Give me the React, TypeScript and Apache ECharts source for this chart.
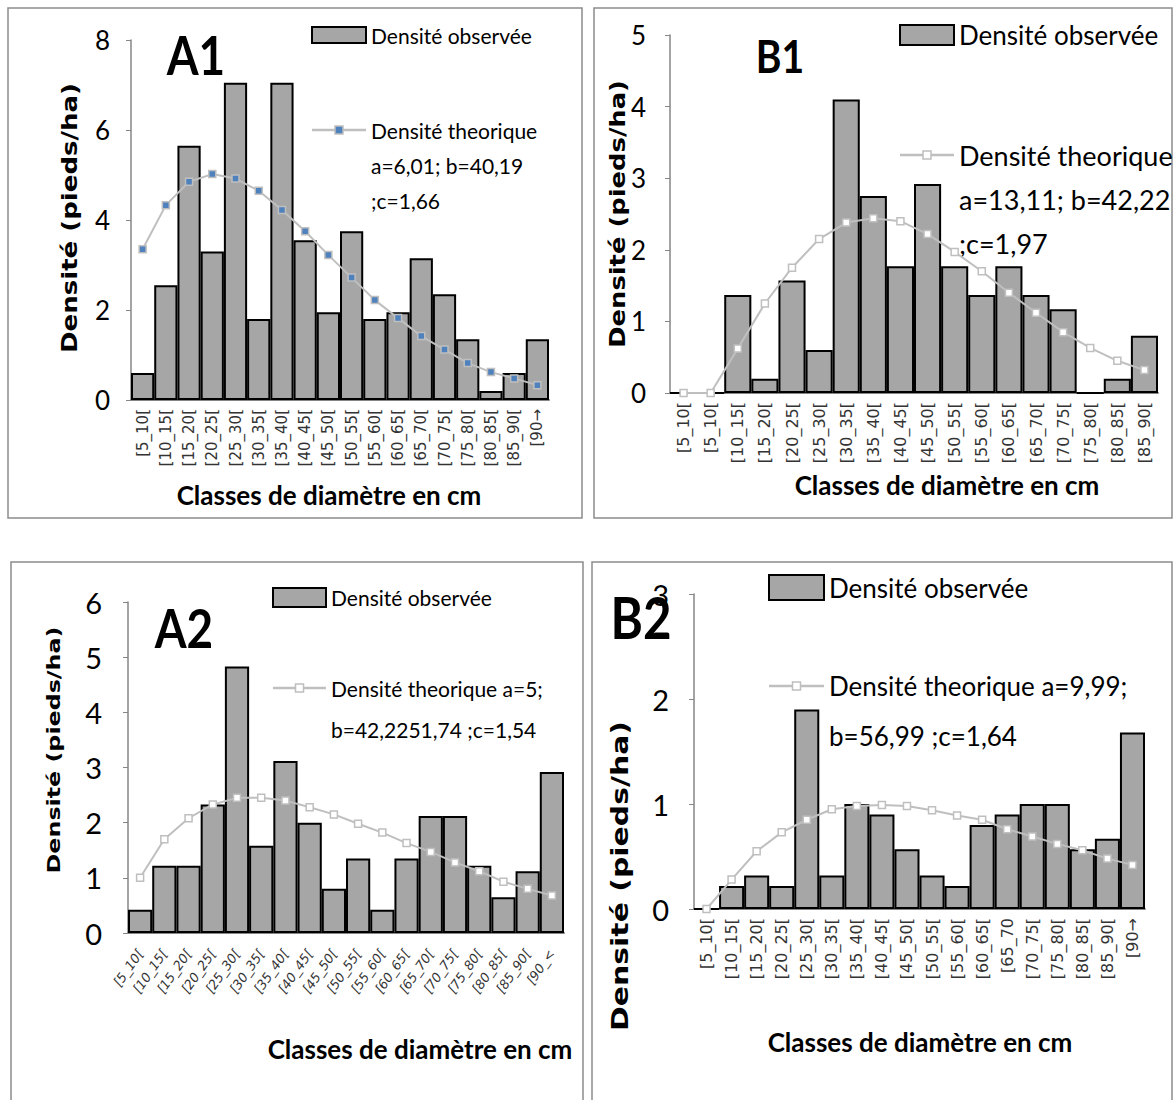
import React, { useEffect, useRef } from "react";
import * as echarts from "echarts";

// ---------- DATA ----------
const catsA1 = ["[5_10[", "[10_15[", "[15_20[", "[20_25[", "[25_30[", "[30_35[", "[35_40[", "[40_45[", "[45_50[", "[50_55[", "[55_60[", "[60_65[", "[65_70[", "[70_75[", "[75_80[", "[80_85[", "[85_90[", "[90→"];
const obsA1 = [0.6, 2.55, 5.65, 3.3, 7.05, 1.8, 7.05, 3.55, 1.95, 3.75, 1.8, 1.95, 3.15, 2.35, 1.35, 0.2, 0.6, 1.35];
const theoA1 = [3.35, 4.33, 4.85, 5.02, 4.92, 4.65, 4.22, 3.75, 3.22, 2.72, 2.22, 1.82, 1.42, 1.12, 0.82, 0.62, 0.48, 0.33];

const catsB1 = ["[5_10[", "[5_10[", "[10_15[", "[15_20[", "[20_25[", "[25_30[", "[30_35[", "[35_40[", "[40_45[", "[45_50[", "[50_55[", "[55_60[", "[60_65[", "[65_70[", "[70_75[", "[75_80[", "[80_85[", "[85_90["];
const obsB1 = [0, 0, 1.37, 0.2, 1.57, 0.6, 4.1, 2.75, 1.77, 2.92, 1.77, 1.37, 1.77, 1.37, 1.17, 0, 0.2, 0.8];
const theoB1 = [0, 0, 0.62, 1.25, 1.75, 2.15, 2.38, 2.44, 2.4, 2.22, 1.97, 1.7, 1.4, 1.12, 0.85, 0.63, 0.45, 0.32];

const catsA2 = ["[5_10[", "[10_15[", "[15_20[", "[20_25[", "[25_30[", "[30_35[", "[35_40[", "[40_45[", "[45_50[", "[50_55[", "[55_60[", "[60_65[", "[65_70[", "[70_75[", "[75_80[", "[80_85[", "[85_90[", "[90_<"];
const obsA2 = [0.42, 1.22, 1.22, 2.33, 4.83, 1.58, 3.12, 2.0, 0.8, 1.35, 0.42, 1.35, 2.12, 2.12, 1.22, 0.65, 1.12, 2.92];
const theoA2 = [1.0, 1.7, 2.08, 2.33, 2.45, 2.45, 2.4, 2.28, 2.15, 1.98, 1.82, 1.63, 1.47, 1.28, 1.12, 0.93, 0.8, 0.68];

const catsB2 = ["[5_10[", "[10_15[", "[15_20[", "[20_25[", "[25_30[", "[30_35[", "[35_40[", "[40_45[", "[45_50[", "[50_55[", "[55_60[", "[60_65[", "[65_70", "[70_75[", "[75_80[", "[80_85[", "[85_90[", "[90→"];
const obsB2 = [0, 0.22, 0.32, 0.22, 1.9, 0.32, 1.0, 0.9, 0.57, 0.32, 0.22, 0.8, 0.9, 1.0, 1.0, 0.57, 0.67, 1.68];
const theoB2 = [0, 0.28, 0.55, 0.73, 0.85, 0.95, 0.98, 0.99, 0.98, 0.94, 0.89, 0.85, 0.76, 0.69, 0.62, 0.56, 0.48, 0.42];

const yMaxes = [8, 5, 6, 3];
const yIntervals = [2, 1, 1, 1];

const panelTitles = ["A1", "B1", "A2", "B2"];
const xTitle = "Classes de diamètre en cm";
const yTitle = "Densité (pieds/ha)";
const obsName = "Densité observée";
const theoTextA1 = ["Densité theorique", "a=6,01; b=40,19", ";c=1,66"];
const theoTextB1 = ["Densité theorique", "a=13,11; b=42,22", ";c=1,97"];
const theoTextA2 = ["Densité theorique a=5;", "b=42,2251,74 ;c=1,54"];
const theoTextB2 = ["Densité theorique a=9,99;", "b=56,99 ;c=1,64"];

// ---------- STYLE ----------
const NARROW = "Lato, 'Open Sans', sans-serif";
const WIDE = "'DejaVu Sans', Verdana, sans-serif";
const BAR_FILL = "#a6a6a6";
const LINE_GRAY = "#bfbfbf";
const AXIS_GRAY = "#868686";

type Panel = {
  cats: string[];
  obs: number[];
  theo: number[];
  grid: { left: number; top: number; width: number; height: number };
  yFont: number;
  yMargin: number;
  labelRotate: number;
  labelFont: number;
  labelMargin: number;
  labelItalic: boolean;
  markerFill: string;
};

const panels: Panel[] = [
  { cats: catsA1, obs: obsA1, theo: theoA1, grid: { left: 131, top: 40, width: 418, height: 360 }, yFont: 26, yMargin: 21, labelRotate: 90, labelFont: 15, labelMargin: 9, labelItalic: false, markerFill: "#4f81bd" },
  { cats: catsB1, obs: obsB1, theo: theoB1, grid: { left: 670, top: 35, width: 488, height: 358 }, yFont: 26, yMargin: 24, labelRotate: 90, labelFont: 16, labelMargin: 9, labelItalic: false, markerFill: "#ffffff" },
  { cats: catsA2, obs: obsA2, theo: theoA2, grid: { left: 128, top: 602, width: 436, height: 331 }, yFont: 29, yMargin: 26, labelRotate: 55, labelFont: 13, labelMargin: 18, labelItalic: true, markerFill: "#ffffff" },
  { cats: catsB2, obs: obsB2, theo: theoB2, grid: { left: 694, top: 594, width: 451, height: 315 }, yFont: 29, yMargin: 25, labelRotate: 90, labelFont: 16, labelMargin: 9, labelItalic: false, markerFill: "#ffffff" },
];

function legendGroup(
  boxX: number, boxY: number, boxW: number, boxH: number,
  lineY: number, obsFont: number, theoFont: number, theoLines: string[], lineGap: number, markerFill: string
) {
  const textX = boxX + boxW + 5;
  const els: any[] = [
    { type: "rect", shape: { x: boxX, y: boxY, width: boxW, height: boxH }, style: { fill: BAR_FILL, stroke: "#000", lineWidth: 2 } },
    { type: "text", x: textX, y: boxY + boxH / 2, style: { text: obsName, font: `${obsFont}px ${NARROW}`, fill: "#000", align: "left", verticalAlign: "middle" } },
    { type: "line", shape: { x1: boxX, y1: lineY, x2: boxX + boxW, y2: lineY }, style: { stroke: LINE_GRAY, lineWidth: 2.5 } },
    { type: "rect", shape: { x: boxX + boxW / 2 - 4, y: lineY - 4, width: 8, height: 8 }, style: { fill: markerFill, stroke: LINE_GRAY, lineWidth: 1.5 } },
  ];
  theoLines.forEach((t, i) => {
    els.push({ type: "text", x: textX, y: lineY + i * lineGap, style: { text: t, font: `${theoFont}px ${NARROW}`, fill: "#000", align: "left", verticalAlign: "middle" } });
  });
  return els;
}

function buildOption() {
  const grid: any[] = [];
  const xAxis: any[] = [];
  const yAxis: any[] = [];
  const series: any[] = [];
  panels.forEach((p, i) => {
    grid.push({ ...p.grid, containLabel: false });
    xAxis.push({
      type: "category", gridIndex: i, data: p.cats, boundaryGap: true,
      axisLine: { show: true, lineStyle: { color: AXIS_GRAY, width: 2 } },
      axisTick: { show: false },
      axisLabel: { interval: 0, rotate: p.labelRotate, fontSize: p.labelFont, fontFamily: WIDE, fontStyle: p.labelItalic ? "italic" : "normal", color: "#333", margin: p.labelMargin },
      splitLine: { show: false },
    });
    yAxis.push({
      type: "value", gridIndex: i, min: 0, max: yMaxes[i], interval: yIntervals[i],
      axisLine: { show: true, lineStyle: { color: AXIS_GRAY, width: 1.5 } },
      axisTick: { show: true, inside: false, length: 5, lineStyle: { color: AXIS_GRAY } },
      axisLabel: { fontSize: p.yFont, fontFamily: NARROW, color: "#000", margin: p.yMargin },
      splitLine: { show: false },
    });
    series.push({
      type: "bar", name: obsName, xAxisIndex: i, yAxisIndex: i, data: p.obs,
      barCategoryGap: "0%", barGap: "0%",
      itemStyle: { color: BAR_FILL, borderColor: "#000", borderWidth: 2 },
    });
    series.push({
      type: "line", name: "Densité theorique", xAxisIndex: i, yAxisIndex: i, data: p.theo,
      symbol: "rect", symbolSize: 7, showSymbol: true,
      lineStyle: { color: LINE_GRAY, width: 2 },
      itemStyle: { color: p.markerFill, borderColor: LINE_GRAY, borderWidth: 1.5 },
    });
  });

  const borders = [
    { x: 8, y: 8, width: 574, height: 510 },
    { x: 594, y: 8, width: 578, height: 510 },
    { x: 11, y: 562, width: 572, height: 545 },
    { x: 592, y: 562, width: 580, height: 545 },
  ];
  const titlePos = [
    { x: 196, y: 55, size: 54 },
    { x: 780, y: 55, size: 46 },
    { x: 184, y: 628, size: 54 },
    { x: 641, y: 616, size: 58 },
  ];
  const xTitlePos = [
    { x: 329, y: 495 },
    { x: 947, y: 485 },
    { x: 420, y: 1049 },
    { x: 920, y: 1042 },
  ];
  const yTitlePos = [
    { x: 70, y: 218, size: 21, sx: 1.24 },
    { x: 618, y: 214, size: 21, sx: 1.23 },
    { x: 54, y: 750, size: 17, sx: 1.4 },
    { x: 620, y: 876, size: 23, sx: 1.3 },
  ];

  const graphic: any[] = [];
  borders.forEach((b) => graphic.push({ type: "rect", z: -1, shape: b, style: { fill: "#fff", stroke: "#8c8c8c", lineWidth: 1.5 }, silent: true }));
  titlePos.forEach((t, i) => graphic.push({ type: "text", x: t.x, y: t.y, z: 10, scaleX: 0.85, style: { text: panelTitles[i], font: `bold ${t.size}px ${NARROW}`, fill: "#000", align: "center", verticalAlign: "middle" } }));
  xTitlePos.forEach((t) => graphic.push({ type: "text", x: t.x, y: t.y, style: { text: xTitle, font: `bold 26px ${NARROW}`, fill: "#000", align: "center", verticalAlign: "middle" } }));
  yTitlePos.forEach((t) => graphic.push({ type: "text", x: t.x, y: t.y, rotation: Math.PI / 2, scaleX: t.sx, style: { text: yTitle, font: `bold ${t.size}px ${WIDE}`, fill: "#000", align: "center", verticalAlign: "middle" } }));

  graphic.push(...legendGroup(312, 27, 54, 16, 130, 21, 21, theoTextA1, 35, "#4f81bd"));
  graphic.push(...legendGroup(900, 25, 54, 20, 155, 26, 27, theoTextB1, 44, "#ffffff"));
  graphic.push(...legendGroup(273, 588, 53, 19, 688, 21, 21, theoTextA2, 41, "#ffffff"));
  graphic.push(...legendGroup(769, 575, 55, 25, 686, 26, 26, theoTextB2, 50, "#ffffff"));

  return { animation: false, backgroundColor: "#fff", grid, xAxis, yAxis, series, graphic };
}

export default function App() {
  const ref = useRef<HTMLDivElement>(null);
  useEffect(() => {
    if (!ref.current) return;
    const chart = echarts.init(ref.current, undefined, { renderer: "svg" });
    chart.setOption(buildOption());
    return () => chart.dispose();
  }, []);
  return <div ref={ref} style={{ position: "absolute", left: 0, top: 0, width: 1174, height: 1100, background: "#fff" }} />;
}
